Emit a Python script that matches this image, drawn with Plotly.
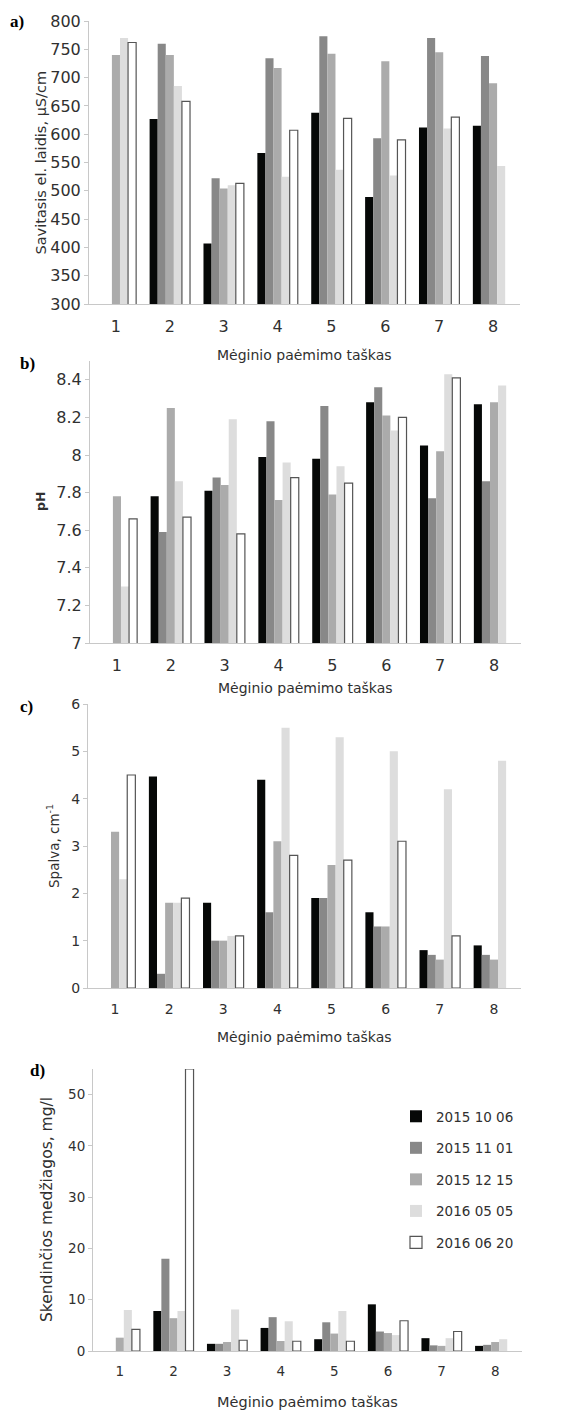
import plotly.graph_objects as go

W, H = 568, 1411

points = [1, 2, 3, 4, 5, 6, 7, 8]
series_names = ["2015 10 06", "2015 11 01", "2015 12 15", "2016 05 05", "2016 06 20"]

# a) Savitasis el. laidis, µS/cm
cond_20151006 = [None, 627, 407, 567, 638, 489, 612, 615]
cond_20151101 = [None, 760, 522, 734, 773, 593, 770, 738]
cond_20151215 = [740, 740, 504, 717, 742, 729, 745, 690]
cond_20160505 = [770, 685, 510, 525, 537, 527, 610, 544]
cond_20160620 = [762, 658, 513, 607, 628, 590, 630, None]

# b) pH
ph_20151006 = [None, 7.78, 7.81, 7.99, 7.98, 8.28, 8.05, 8.27]
ph_20151101 = [None, 7.59, 7.88, 8.18, 8.26, 8.36, 7.77, 7.86]
ph_20151215 = [7.78, 8.25, 7.84, 7.76, 7.79, 8.21, 8.02, 8.28]
ph_20160505 = [7.30, 7.86, 8.19, 7.96, 7.94, 8.13, 8.43, 8.37]
ph_20160620 = [7.66, 7.67, 7.58, 7.88, 7.85, 8.20, 8.41, None]

# c) Spalva, cm-1
col_20151006 = [None, 4.47, 1.8, 4.4, 1.9, 1.6, 0.8, 0.9]
col_20151101 = [None, 0.3, 1.0, 1.6, 1.9, 1.3, 0.7, 0.7]
col_20151215 = [3.3, 1.8, 1.0, 3.1, 2.6, 1.3, 0.6, 0.6]
col_20160505 = [2.3, 1.8, 1.1, 5.5, 5.3, 5.0, 4.2, 4.8]
col_20160620 = [4.5, 1.9, 1.1, 2.8, 2.7, 3.1, 1.1, None]

# d) Skendinčios medžiagos, mg/l
ss_20151006 = [None, 7.8, 1.4, 4.5, 2.3, 9.1, 2.5, 1.0]
ss_20151101 = [None, 18.0, 1.4, 6.6, 5.6, 3.8, 1.1, 1.2]
ss_20151215 = [2.6, 6.4, 1.75, 1.95, 3.4, 3.5, 1.0, 1.75]
ss_20160505 = [8.0, 7.8, 8.1, 5.8, 7.8, 3.1, 2.5, 2.3]
ss_20160620 = [4.2, 55.0, 2.1, 1.9, 1.9, 5.9, 3.8, None]

ticks_a = [300, 350, 400, 450, 500, 550, 600, 650, 700, 750, 800]
ticks_b = [7, 7.2, 7.4, 7.6, 7.8, 8, 8.2, 8.4]
ticks_c = [0, 1, 2, 3, 4, 5, 6]
ticks_d = [0, 10, 20, 30, 40, 50]

colors = ["#060807", "#888888", "#ababab", "#dddddd", "#ffffff"]
line_colors = ["#060807", "#888888", "#ababab", "#dddddd", "#555555"]
line_widths = [0, 0, 0, 0, 1.2]

panels = [
    dict(data=[cond_20151006, cond_20151101, cond_20151215, cond_20160505, cond_20160620],
         x=(89, 520), y=(21, 304), rng=[300, 800], ticks=ticks_a, fs=16, xfs=14,
         label="a)", lab_xy=(17, 22), ytitle="Savitasis el. laidis, µS/cm", ytx=40, yfs=14.5,
         xtitle_y=355, bold=False),
    dict(data=[ph_20151006, ph_20151101, ph_20151215, ph_20160505, ph_20160620],
         x=(90, 521), y=(361, 643), rng=[7, 8.5], ticks=ticks_b, fs=16, xfs=14,
         label="b)", lab_xy=(28, 363), ytitle="pH", ytx=40, yfs=12.5,
         xtitle_y=688, bold=True),
    dict(data=[col_20151006, col_20151101, col_20151215, col_20160505, col_20160620],
         x=(88, 521), y=(704, 988), rng=[0, 6], ticks=ticks_c, fs=14, xfs=14,
         label="c)", lab_xy=(26, 706), ytitle="Spalva, cm<sup>-1</sup>", ytx=53, yfs=13.5,
         xtitle_y=1037, bold=False),
    dict(data=[ss_20151006, ss_20151101, ss_20151215, ss_20160505, ss_20160620],
         x=(93, 522), y=(1069, 1351), rng=[0, 55], ticks=ticks_d, fs=13.5, xfs=14.5,
         label="d)", lab_xy=(37, 1070), ytitle="Skendinčios medžiagos, mg/l", ytx=47, yfs=15.5,
         xtitle_y=1402, bold=False),
]

FONT = "DejaVu Sans"
TXT = "#303030"

fig = go.Figure()
annotations = []
layout_axes = {}

for i, p in enumerate(panels):
    n = "" if i == 0 else str(i + 1)
    xa, ya = "x" + n, "y" + n
    for k in range(5):
        fig.add_trace(go.Bar(
            x=points, y=p["data"][k], name=series_names[k],
            xaxis=xa, yaxis=ya,
            marker=dict(color=colors[k], line=dict(color=line_colors[k], width=line_widths[k])),
            showlegend=(i == 3), legendgroup=series_names[k],
        ))
    layout_axes["xaxis" + n] = dict(
        domain=[p["x"][0] / W, p["x"][1] / W], anchor=ya, automargin=False,
        range=[0.5, 8.5], tickvals=points, ticktext=[str(v) for v in points],
        showline=True, linecolor="#c8c8c8", linewidth=1, ticks="",
        showgrid=False, zeroline=False, ticklabelstandoff=8,
        tickfont=dict(family=FONT, size=p["fs"], color=TXT),
    )
    layout_axes["yaxis" + n] = dict(
        domain=[1 - p["y"][1] / H, 1 - p["y"][0] / H], anchor=xa, automargin=False,
        range=p["rng"], tickvals=p["ticks"], ticktext=[("%g" % v) for v in p["ticks"]],
        showline=True, linecolor="#c8c8c8", linewidth=1, ticks="outside",
        ticklen=4, tickcolor="#c8c8c8", showgrid=False, zeroline=False,
        tickfont=dict(family=FONT, size=p["fs"], color=TXT),
    )
    cx = (p["x"][0] + p["x"][1]) / 2
    annotations.append(dict(
        text="Mėginio paėmimo taškas", x=cx / W, y=1 - p["xtitle_y"] / H,
        xref="paper", yref="paper", xanchor="center", yanchor="middle", showarrow=False,
        font=dict(family=FONT, size=p["xfs"], color=TXT)))
    cy = (p["y"][0] + p["y"][1]) / 2
    yt = "<b>" + p["ytitle"] + "</b>" if p["bold"] else p["ytitle"]
    annotations.append(dict(
        text=yt, x=p["ytx"] / W, y=1 - cy / H, textangle=-90,
        xref="paper", yref="paper", xanchor="center", yanchor="middle", showarrow=False,
        font=dict(family=FONT, size=p["yfs"], color=TXT)))
    annotations.append(dict(
        text="<b>" + p["label"] + "</b>", x=p["lab_xy"][0] / W, y=1 - p["lab_xy"][1] / H,
        xref="paper", yref="paper", xanchor="center", yanchor="middle", showarrow=False,
        font=dict(family="Liberation Serif", size=17, color="#000000")))

fig.update_layout(
    width=W, height=H, margin=dict(l=0, r=0, t=0, b=0, autoexpand=False),
    paper_bgcolor="white", plot_bgcolor="white",
    barmode="group", bargap=0.25, bargroupgap=0,
    annotations=annotations,
    legend=dict(x=396 / W, y=1 - 1101 / H, xanchor="left", yanchor="top",
                font=dict(family=FONT, size=13.5, color=TXT),
                tracegroupgap=11, itemwidth=30, bgcolor="rgba(0,0,0,0)"),
    **layout_axes,
)

fig.write_html(
    "out.html",
    config={"displayModeBar": False},
    post_script="document.body.style.margin='0px';document.body.style.overflow='hidden';",
)
